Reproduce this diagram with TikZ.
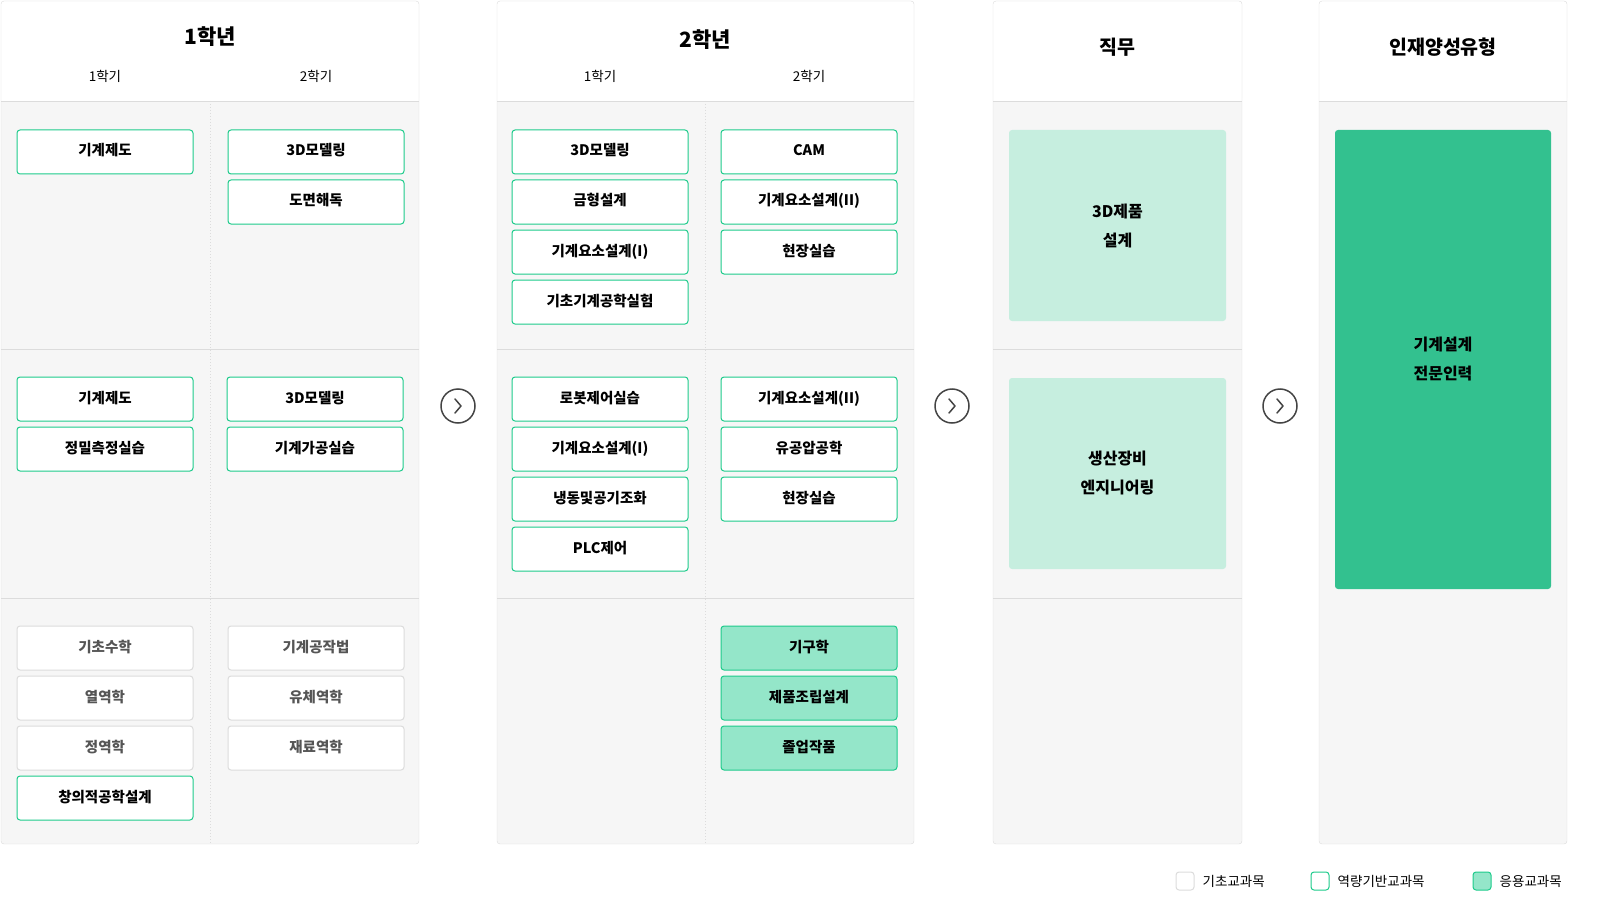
\documentclass[tikz,border=0pt]{standalone}
\usepackage{fontspec}
\setmainfont{Noto Sans CJK KR}
\usetikzlibrary{positioning}
\definecolor{linegray}{HTML}{DCDCDC}
\definecolor{bodygray}{HTML}{F6F6F6}
\definecolor{keygreen}{HTML}{1DCB8B}
\definecolor{appgreen}{HTML}{94E6C9}
\definecolor{jobgreen}{HTML}{C6EEDF}
\definecolor{talentgreen}{HTML}{33C18F}
\definecolor{textgray}{HTML}{555555}
\definecolor{icongray}{HTML}{444444}
\tikzset{
  course/.style={draw, rounded corners=3pt, fill=white, line width=1pt,
    minimum width=176pt, minimum height=44pt, text height=11pt, text depth=3pt,
    font=\fontsize{14.5}{17}\selectfont\bfseries},
  basic/.style={course, draw=linegray, text=textgray},
  core/.style={course, draw=keygreen},
  applied/.style={course, draw=keygreen, fill=appgreen},
  stack/.style={below=5pt of #1},
  yearhead/.style={font=\fontsize{21}{24}\selectfont\bfseries},
  jobhead/.style={font=\fontsize{19.5}{24}\selectfont\bfseries},
  termhead/.style={font=\fontsize{13.5}{16}\selectfont},
  outcome/.style={rounded corners=3pt, align=center, font=\fontsize{16}{29}\selectfont\bfseries},
  nextstep/.style={draw=icongray, circle, line width=1.5pt, minimum size=34pt, inner sep=0pt},
  keybox/.style={draw, rounded corners=3pt, line width=1pt, minimum size=18pt, inner sep=0pt},
  keytext/.style={right=8pt of #1, font=\fontsize{13.5}{16}\selectfont, inner sep=0pt}
}
\begin{document}
\begin{tikzpicture}[x=1pt, y=-1pt]
  \useasboundingbox (0,0) rectangle (1600,912);
  % 패널 틀
  \foreach \xa/\xb in {1/419, 497/914, 993/1242, 1319/1567} {
    \fill[bodygray, rounded corners=3pt] (\xa,1) rectangle (\xb,844);
    \fill[white, rounded corners=3pt] (\xa,1) rectangle (\xb,101);
    \fill[white] (\xa,50) rectangle (\xb,101);
    \draw[linegray] (\xa,101) -- (\xb,101);
    \draw[linegray, rounded corners=3pt] (\xa,1) rectangle (\xb,844);
  }
  \foreach \xa/\xb in {1/419, 497/914, 993/1242} {
    \draw[linegray] (\xa,349) -- (\xb,349);
    \draw[linegray] (\xa,598) -- (\xb,598);
  }
  \foreach \xm in {210, 705}
    \draw[linegray, dotted, line width=1pt] (\xm,101) -- (\xm,844);

  % 제목
  \node[yearhead] (year1) at (210,37) {1학년};
  \node[termhead] (y1t1) at (105,76) {1학기};
  \node[termhead] (y1t2) at (316,76) {2학기};
  \node[yearhead] (year2) at (705,40) {2학년};
  \node[termhead] (y2t1) at (600,76) {1학기};
  \node[termhead] (y2t2) at (809,76) {2학기};
  \node[jobhead] (jobtitle) at (1117,47) {직무};
  \node[jobhead] (talenttitle) at (1443,47) {인재양성유형};

  % 1학년
  \node[core] (a11) at (105,152) {기계제도};
  \node[core] (a21) at (316,152) {3D모델링};
  \node[core, stack=a21] (a22) {도면해독};
  \node[core] (b11) at (105,399) {기계제도};
  \node[core, stack=b11] (b12) {정밀측정실습};
  \node[core] (b21) at (315,399) {3D모델링};
  \node[core, stack=b21] (b22) {기계가공실습};
  \node[basic] (c11) at (105,648) {기초수학};
  \node[basic, stack=c11] (c12) {열역학};
  \node[basic, stack=c12] (c13) {정역학};
  \node[core, stack=c13] (c14) {창의적공학설계};
  \node[basic] (c21) at (316,648) {기계공작법};
  \node[basic, stack=c21] (c22) {유체역학};
  \node[basic, stack=c22] (c23) {재료역학};

  % 2학년
  \node[core] (d11) at (600,152) {3D모델링};
  \node[core, stack=d11] (d12) {금형설계};
  \node[core, stack=d12] (d13) {기계요소설계(I)};
  \node[core, stack=d13] (d14) {기초기계공학실험};
  \node[core] (d21) at (809,152) {CAM};
  \node[core, stack=d21] (d22) {기계요소설계(II)};
  \node[core, stack=d22] (d23) {현장실습};
  \node[core] (e11) at (600,399) {로봇제어실습};
  \node[core, stack=e11] (e12) {기계요소설계(I)};
  \node[core, stack=e12] (e13) {냉동및공기조화};
  \node[core, stack=e13] (e14) {PLC제어};
  \node[core] (e21) at (809,399) {기계요소설계(II)};
  \node[core, stack=e21] (e22) {유공압공학};
  \node[core, stack=e22] (e23) {현장실습};
  \node[applied] (f21) at (809,648) {기구학};
  \node[applied, stack=f21] (f22) {제품조립설계};
  \node[applied, stack=f22] (f23) {졸업작품};

  % 직무, 인재양성유형
  \node[outcome, fill=jobgreen, minimum width=217pt, minimum height=191pt] (job1) at (1117.5,225.5) {3D제품\\설계};
  \node[outcome, fill=jobgreen, minimum width=217pt, minimum height=191pt] (job2) at (1117.5,473.5) {생산장비\\엔지니어링};
  \node[outcome, fill=talentgreen, minimum width=216pt, minimum height=459pt] (talent) at (1443,359.5) {기계설계\\전문인력};

  % 화살표 아이콘
  \foreach \nm/\xm in {go1/458, go2/952, go3/1280} {
    \node[nextstep] (\nm) at (\xm,406) {};
    \draw[icongray, line width=1.5pt, line cap=round, line join=round]
      ([xshift=-3pt, yshift=7pt]\nm.center) -- ([xshift=3pt]\nm.center) -- ([xshift=-3pt, yshift=-7pt]\nm.center);
  }

  % 범례
  \node[keybox, draw=linegray, fill=white] (k1) at (1185,881) {};
  \node[keytext=k1] (k1t) {기초교과목};
  \node[keybox, draw=keygreen, fill=white] (k2) at (1320,881) {};
  \node[keytext=k2] (k2t) {역량기반교과목};
  \node[keybox, draw=keygreen, fill=appgreen] (k3) at (1482,881) {};
  \node[keytext=k3] (k3t) {응용교과목};
\end{tikzpicture}
\end{document}
